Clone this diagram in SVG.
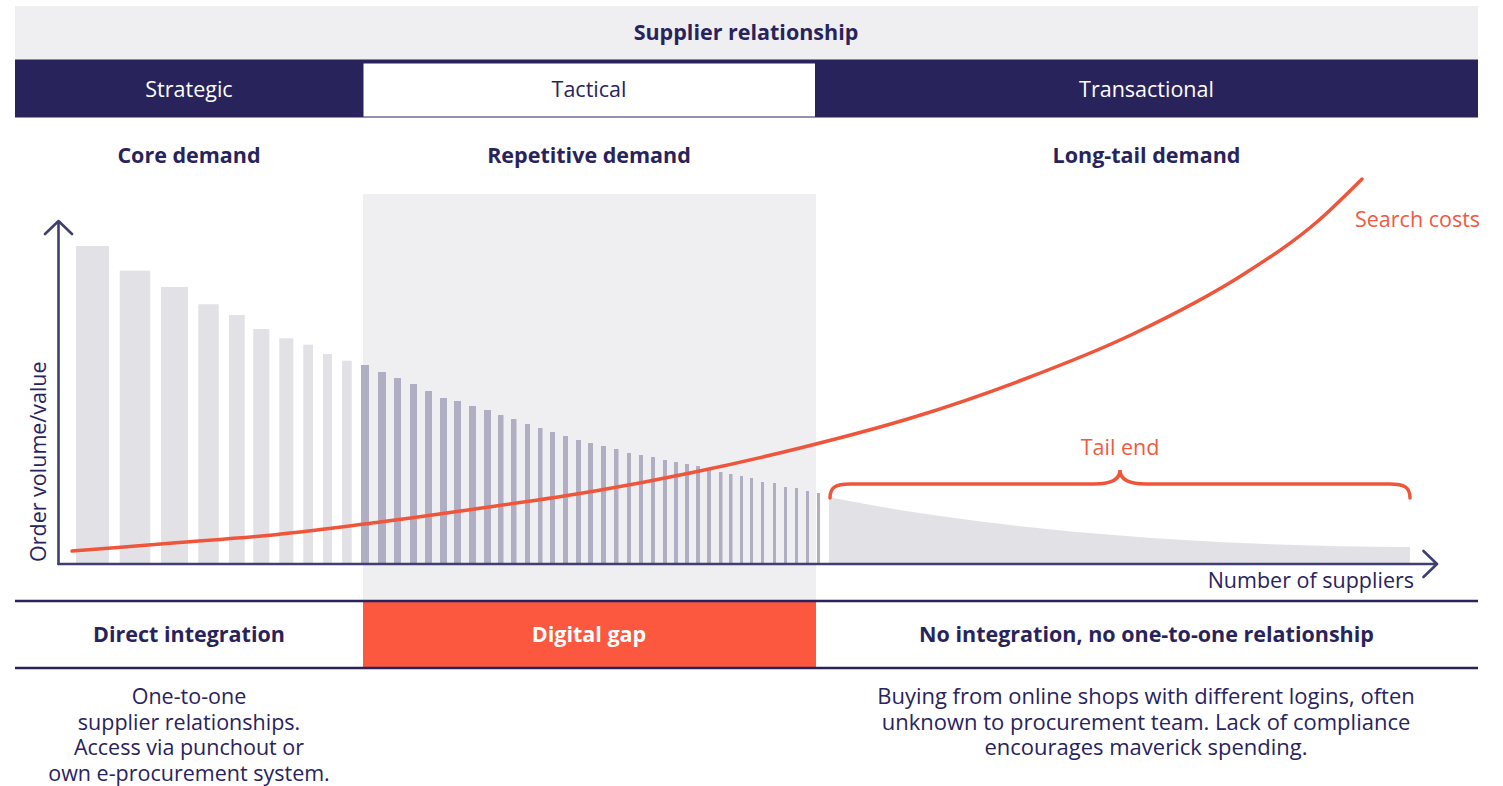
<svg xmlns="http://www.w3.org/2000/svg" width="1503" height="786" viewBox="0 0 1503 786">
<defs>
<style>
text{font-family:"Open Sans","Noto Sans","Liberation Sans",sans-serif;font-size:21.5px;fill:#29235c}
.b{font-weight:700}
.c{text-anchor:middle}
.w{fill:#ffffff}
.o{fill:#f05a3f}
.lb{fill:#e2e1e6}
.db{fill:#b0aec3}
.sep{stroke:#29235c;stroke-width:2.5;fill:none}
.axis{stroke:#3d4070;stroke-width:2.6;fill:none;stroke-linecap:round;stroke-linejoin:round}
.curve{stroke:#ef553a;stroke-width:3.5;fill:none;stroke-linecap:round}
</style>
</defs>
<rect width="1503" height="786" fill="#ffffff"/>

<g id="header">
<rect x="15" y="6" width="1463" height="54" fill="#efeff1"/>
<text class="b c" x="746" y="40">Supplier relationship</text>
<rect x="15" y="59.5" width="1463" height="58" fill="#29235c"/>
<rect x="363.5" y="63.5" width="451.5" height="53" fill="#ffffff"/>
</g>

<g id="strategic">
<text class="c w" x="189" y="97">Strategic</text>
<text class="b c" x="189" y="163">Core demand</text>
</g>
<g id="tactical">
<text class="c" x="589" y="97">Tactical</text>
<text class="b c" x="589" y="163">Repetitive demand</text>
</g>
<g id="transactional">
<text class="c w" x="1146.5" y="97">Transactional</text>
<text class="b c" x="1146.5" y="163">Long-tail demand</text>
</g>

<g id="gap-column">
<rect x="363" y="194" width="453" height="407" fill="#efeff1"/>
</g>

<g id="bars-core">
<rect class="lb" x="76" y="246" width="33" height="317"/>
<rect class="lb" x="119.7" y="270.7" width="30.6" height="292.3"/>
<rect class="lb" x="161" y="287" width="27" height="276"/>
<rect class="lb" x="198.3" y="304.3" width="20.4" height="258.7"/>
<rect class="lb" x="229" y="315" width="15.7" height="248"/>
<rect class="lb" x="253.3" y="329" width="16" height="234"/>
<rect class="lb" x="279.3" y="338.3" width="14" height="224.7"/>
<rect class="lb" x="303.3" y="344.7" width="9.7" height="218.3"/>
<rect class="lb" x="323" y="354" width="9" height="209"/>
<rect class="lb" x="342" y="360.7" width="9.7" height="202.3"/>
</g>

<g id="bars-repetitive">
<rect class="db" x="361" y="365" width="8" height="198"/>
<rect class="db" x="378" y="372" width="8" height="191"/>
<rect class="db" x="394" y="378" width="7" height="185"/>
<rect class="db" x="410" y="384" width="7" height="179"/>
<rect class="db" x="425" y="391" width="7" height="172"/>
<rect class="db" x="440" y="398" width="7" height="165"/>
<rect class="db" x="454" y="401" width="7" height="162"/>
<rect class="db" x="469" y="406" width="7" height="157"/>
<rect class="db" x="484" y="410" width="7" height="153"/>
<rect class="db" x="498" y="415" width="5.5" height="148"/>
<rect class="db" x="511" y="419" width="5.5" height="144"/>
<rect class="db" x="525" y="424" width="5" height="139"/>
<rect class="db" x="538" y="428" width="4.5" height="135"/>
<rect class="db" x="550" y="432" width="5" height="131"/>
<rect class="db" x="563" y="436" width="5" height="127"/>
<rect class="db" x="576" y="440" width="5" height="123"/>
<rect class="db" x="588" y="443" width="5" height="120"/>
<rect class="db" x="601" y="446" width="5" height="117"/>
<rect class="db" x="614" y="449" width="4.5" height="114"/>
<rect class="db" x="627" y="453" width="4" height="110"/>
<rect class="db" x="639" y="455" width="4" height="108"/>
<rect class="db" x="651" y="457" width="4" height="106"/>
<rect class="db" x="663" y="460" width="4" height="103"/>
<rect class="db" x="674" y="462" width="4" height="101"/>
<rect class="db" x="685" y="464" width="4" height="99"/>
<rect class="db" x="696" y="466" width="4" height="97"/>
<rect class="db" x="707" y="470" width="4" height="93"/>
<rect class="db" x="719" y="472" width="3.5" height="91"/>
<rect class="db" x="729" y="474" width="3.5" height="89"/>
<rect class="db" x="740" y="476" width="3" height="87"/>
<rect class="db" x="750" y="478" width="3" height="85"/>
<rect class="db" x="761" y="482" width="3" height="81"/>
<rect class="db" x="773" y="483" width="3" height="80"/>
<rect class="db" x="784" y="487" width="3" height="76"/>
<rect class="db" x="795" y="488" width="3" height="75"/>
<rect class="db" x="806" y="491" width="3" height="72"/>
<rect class="db" x="817" y="493" width="3" height="70"/>
</g>

<g id="tail-area">
<path class="lb" d="M829,497 C950,522 1150,546 1410,547 L1410,563 L829,563 Z"/>
</g>

<g id="connectors">
<path id="search-curve" class="curve" d="M72,551 C105.7,548.5 139.3,545.7 173,543 C206.3,540.35 239.7,538.37 273,535 C308.7,531.4 344.3,526.6 380,522 C411.7,517.9 443.3,513.5 475,509 C515,503.3 555,497.8 595,491 C626.7,485.6 658.3,479.6 690,473 C726.7,465.4 763.3,457.1 800,448 C837,438.8 874,429.3 911,418 C948,406.7 985,394 1022,380 C1059,366 1096,351.7 1133,334 C1170,316.3 1207,297.7 1244,274 C1268.7,258.2 1293.3,242.4 1318,221 C1332.7,208.3 1347.3,193.7 1362,179"/>
<path id="tail-brace" class="curve" stroke-width="2.6" d="M830,498 C830,487 836,484 850,484 L1094,484 C1110,484 1120,480 1120,470 C1120,480 1130,484 1146,484 L1390,484 C1404,484 1410,487 1410,498"/>
<path id="y-axis" class="axis" d="M58.5,564 L58.5,221 M45,234 L58.5,221 L72,234"/>
<path id="x-axis" class="axis" d="M58.5,564 L1437,564 M1423.5,551 L1437,564 L1423.5,577"/>
</g>

<g id="labels">
<text class="o" x="1355" y="227">Search costs</text>
<text class="o c" x="1120" y="455">Tail end</text>
<text x="1414" y="588" text-anchor="end">Number of suppliers</text>
<text transform="translate(45.5,562) rotate(-90)">Order volume/value</text>
</g>

<g id="integration-row">
<rect x="363" y="602" width="453" height="65" fill="#fc573f"/>
<line class="sep" x1="15" y1="601" x2="1478" y2="601"/>
<line class="sep" x1="15" y1="668" x2="1478" y2="668"/>
<text class="b c" x="189" y="642">Direct integration</text>
<text class="b c w" x="589" y="642">Digital gap</text>
<text class="b c" x="1146.5" y="642">No integration, no one-to-one relationship</text>
</g>

<g id="desc-left">
<text class="c" x="189" y="704">One-to-one</text>
<text class="c" x="189" y="729.5">supplier relationships.</text>
<text class="c" x="189" y="755">Access via punchout or</text>
<text class="c" x="189" y="780.5">own e-procurement system.</text>
</g>
<g id="desc-right" style="font-size:22px">
<text class="c" x="1146" y="704" style="font-size:22px">Buying from online shops with different logins, often</text>
<text class="c" x="1146" y="729.5" style="font-size:22px">unknown to procurement team. Lack of compliance</text>
<text class="c" x="1146" y="755" style="font-size:22px">encourages maverick spending.</text>
</g>
</svg>
